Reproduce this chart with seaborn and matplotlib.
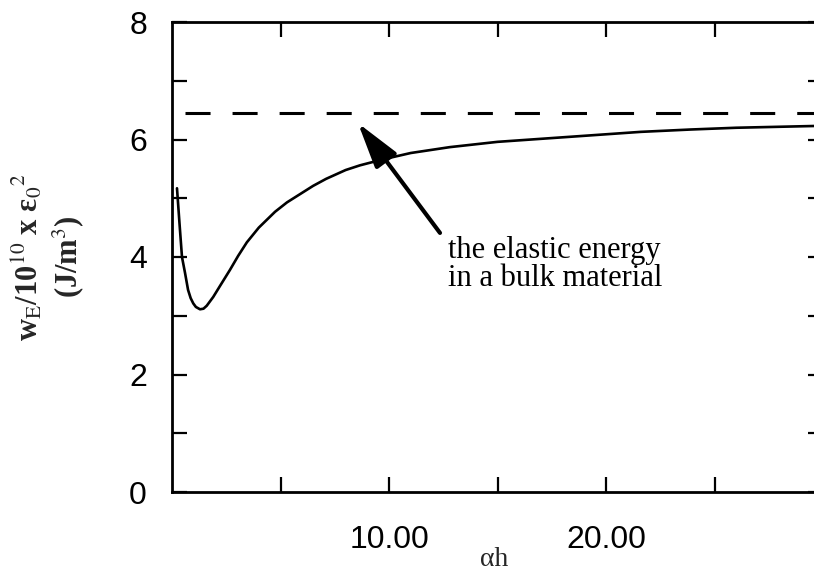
import numpy as np
import pandas as pd
import matplotlib
matplotlib.use("Agg")
import matplotlib.pyplot as plt
import seaborn as sns

# ---- data ----
alpha_h = [0.23, 0.35, 0.46, 0.60, 0.74, 0.86, 0.98, 1.10, 1.29, 1.45, 1.60, 1.90,
           2.20, 2.67, 3.05, 3.45, 4.00, 4.75, 5.30, 5.90, 6.50, 7.10, 8.00, 8.66,
           9.70, 11.0, 12.8, 15.0, 18.5, 21.6, 23.9, 26.0, 29.6]
w_E = [5.17, 4.55, 4.00, 3.73, 3.44, 3.30, 3.21, 3.15, 3.11, 3.12, 3.17, 3.32,
       3.50, 3.78, 4.02, 4.25, 4.50, 4.77, 4.93, 5.07, 5.21, 5.33, 5.48, 5.56,
       5.66, 5.77, 5.87, 5.96, 6.05, 6.13, 6.17, 6.20, 6.23]
bulk_x = [0.6, 30.0]
bulk_level = 6.45
x_ticks = [5, 10, 15, 20, 25, 30]
x_tick_labels = ["", "10.00", "", "20.00", "", ""]
y_major = [0, 2, 4, 6, 8]
y_minor = [1, 3, 5, 7]
annotation = "the elastic energy\nin a bulk material"

df = pd.DataFrame({"ah": alpha_h, "w": w_E})
bulk = pd.DataFrame({"ah": bulk_x, "w": [bulk_level] * len(bulk_x)})

sns.set_style("ticks")
plt.rcParams["font.family"] = ["Liberation Sans", "DejaVu Sans"]
plt.rcParams["mathtext.fontset"] = "stix"

fig = plt.figure(figsize=(8.14, 5.75), dpi=100)
ax = fig.add_axes([172 / 814, 83 / 575, 651 / 814, 470 / 575])

sns.lineplot(data=df, x="ah", y="w", ax=ax, color="black", lw=1.9)
sns.lineplot(data=bulk, x="ah", y="w", ax=ax, color="black", lw=2.2,
             dashes=False)
ax.lines[-1].set_dashes((8.2, 7.2))

ax.set_xlim(0, 30)
ax.set_ylim(0, 8)
ax.set_xticks(x_ticks)
ax.set_xticklabels(x_tick_labels)
ax.set_yticks(y_major)
ax.set_yticks(y_minor, minor=True)
ax.set_yticklabels([str(v) for v in y_major])

for s in ax.spines.values():
    s.set_visible(True)
    s.set_linewidth(2.0)
    s.set_color("black")

ax.tick_params(axis="both", which="both", direction="in", length=11, width=1.6,
               colors="black", top=True, right=True)
ax.tick_params(axis="y", which="both", labelsize=23, pad=18)
ax.tick_params(axis="x", which="both", labelsize=23, pad=24)

ax.set_xlabel("")
ax.set_ylabel("")
fig.text(494 / 814, 1 - 566 / 575, "αh", ha="center", va="baseline",
         fontsize=20, family="Liberation Serif")

# annotation arrow and text
ax.annotate("", xy=(8.57, 6.28), xytext=(12.35, 4.41),
            arrowprops=dict(arrowstyle="-|>,head_length=1.4,head_width=0.4",
                            lw=3.0, color="black", shrinkA=0, shrinkB=0,
                            mutation_scale=20))
ax.text(12.72, 4.36, annotation, ha="left", va="top", fontsize=22,
        family="Liberation Serif", linespacing=0.98, color="black")

# y label (two lines)
fig.text(28 / 814, 1 - 257 / 575,
         r"w$_{\mathrm{E}}$/10$^{10}$ x ε$_0$$^2$",
         rotation=90, ha="center", va="center", fontsize=22,
         family="Liberation Serif", fontweight="bold")
fig.text(68 / 814, 1 - 257 / 575, r"(J/m$^3$)", rotation=90, ha="center",
         va="center", fontsize=22, family="Liberation Serif", fontweight="bold")

fig.savefig("out.png", dpi=100)
